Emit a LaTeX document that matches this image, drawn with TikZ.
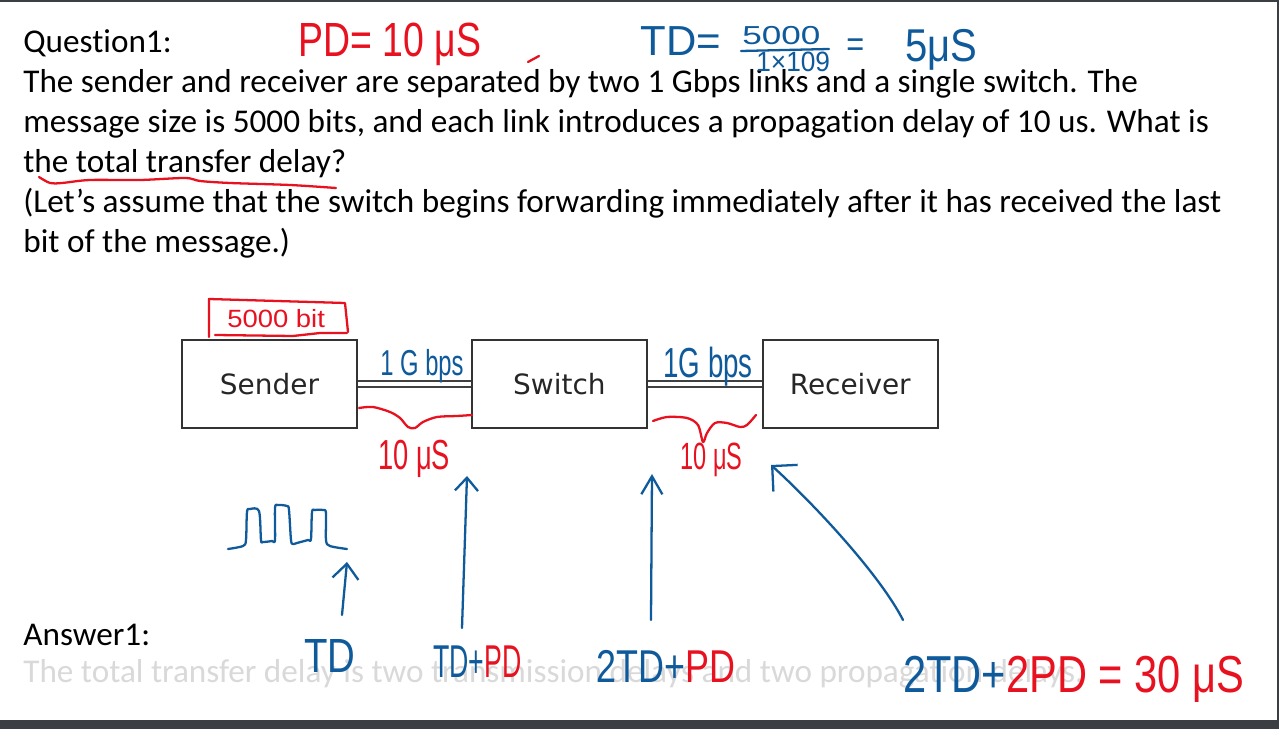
\documentclass[tikz,border=0pt]{standalone}
\usepackage{fontspec}
\setmainfont{Carlito}[Ligatures=NoCommon]
\newfontfamily\boxfont{DejaVu Sans}
\newfontfamily\handfont{Liberation Sans}
\usetikzlibrary{arrows.meta,positioning}
\definecolor{inkred}{HTML}{E8111F}
\definecolor{inkblue}{HTML}{0F5A9B}
\definecolor{framedark}{HTML}{3B3E42}
\definecolor{boxline}{HTML}{333333}
\definecolor{linkline}{HTML}{404040}
\definecolor{fadedtext}{HTML}{D9D9D9}
\newcommand\hf[1]{\handfont\fontsize{#1}{#1}\selectfont}
\newcommand\hw[2]{\scalebox{#1}[1]{#2}}
\tikzset{
  qline/.style={anchor=base west, inner sep=0pt, font=\fontsize{18.9}{22.6}\selectfont},
  unit/.style={draw=boxline, line width=1.1pt, fill=white,
               minimum width=3.5cm, minimum height=1.76cm,
               font=\boxfont\fontsize{15.9}{19}\selectfont, text=black!85},
  link/.style={draw=linkline, line width=1.1pt, double=white, double distance=2.3pt},
  redpen/.style={draw=inkred, line width=1.3pt, line cap=round, line join=round},
  bluepen/.style={draw=inkblue, line width=1.3pt, line cap=round, line join=round},
  redhand/.style={anchor=base west, inner sep=0pt, text=inkred},
  bluehand/.style={anchor=base west, inner sep=0pt, text=inkblue},
  harrow/.style 2 args={bluepen, -{Straight Barb[length=#1, width=#2]}},
}

\begin{document}
\begin{tikzpicture}[x=0.02cm, y=-0.02cm]

  \useasboundingbox (0,0) rectangle (1279,729);
  \fill[white] (0,0) rectangle (1279,729);
  \fill[framedark] (0,0) rectangle (1279,2);
  \fill[framedark] (1277,0) rectangle (1279,729);
  \fill[framedark] (0,720) rectangle (1279,729);

  \foreach \ln [count=\i] in {{Question1:},
      {The sender and receiver are separated by two 1 Gbps links and a single switch. The},
      {message size is 5000 bits, and each link introduces a propagation delay of 10 us. What is},
      {the total transfer delay?},
      {(Let’s assume that the switch begins forwarding immediately after it has received the last},
      {bit of the message.)}}
    \node[qline] (q\i) at (23,{13+40*\i}) {\ln};

  \node[qline] (answer) at (23,645) {Answer1:};
  \node[qline, text=fadedtext] (answertext) at (23,683) {The total transfer delay is two transmission delays and two propagation delays.};

  \node[unit] (sender) at (269.5,384) {Sender};
  \node[unit, right=2.26cm of sender] (switch) {Switch};
  \node[unit, right=2.28cm of switch] (receiver) {Receiver};

  \draw[link] (sender) -- (switch);
  \draw[link] (switch) -- (receiver);

  \node[redhand, font=\hf{27.3}] (pdval) at (298,57) {\hw{.78}{PD= 10 μS}};
  \draw[redpen] (528,62) -- (539,56);
  \node[bluehand, font=\hf{23.9}] (tdeq) at (640,56) {TD=};
  \node[bluehand, font=\hf{14.8}] (tdnum) at (742,45) {\hw{1.35}{5000}};
  \draw[bluepen] (741,51) -- (829,49);
  \node[bluehand, font=\hf{15.9}] (tdden) at (756,72) {\hw{.94}{1×109}};
  \node[bluehand, font=\hf{20.5}] (tdeqb) at (846,57) {\hw{.85}{=}};
  \node[bluehand, font=\hf{26.2}] (tdval) at (905,62) {\hw{.87}{5μS}};

  \draw[redpen] plot[smooth] coordinates {(39,177) (50,183) (62,183) (90,180) (140,180) (185,178) (200,181) (230,183) (290,185) (336,188)};

  \draw[redpen] (209,337) -- (209,299) -- (345,303) -- (348,332);
  \draw[redpen] (215,335) -- (293,336) -- (320,333) -- (347,333);
  \node[redhand, font=\hf{14.2}] (msgsize) at (227,328) {\hw{1.1}{5000 bit}};

  \node[bluehand, font=\hf{20.5}] (rate1) at (380,376) {\hw{.66}{1 G bps}};
  \node[bluehand, font=\hf{23.9}] (rate2) at (663,378) {\hw{.66}{1G bps}};

  \draw[redpen] plot[smooth] coordinates {(359,408) (373,407) (390,412) (400,418) (408,427) (415,428) (423,422) (437,417) (457,416) (472,415)};
  \draw[redpen] plot[smooth] coordinates {(653,421) (667,417) (687,418) (698,425) (703,442) (707,433) (715,423) (727,423) (740,427) (747,425) (756,415)};
  \node[redhand, font=\hf{23.9}] (prop1) at (378,470) {\hw{.65}{10 μS}};
  \node[redhand, font=\hf{21.6}] (prop2) at (680,470) {\hw{.62}{10 μS}};

  \draw[bluepen] plot[smooth, tension=0.5] coordinates {(228,549) (243,546) (246,540) (247,512) (250,509) (259,511) (261,540) (263,542) (272,541) (275,540) (275,508) (278,505) (287,506) (289,510) (291,540) (293,544) (297,543) (308,540) (311,539) (312,512) (315,510) (323,510) (326,513) (326,540) (330,546) (347,549)};

  \node[bluehand, font=\hf{27.3}] (tdlbl) at (304,672) {\hw{.8}{TD}};
  \node[bluehand, font=\hf{26.2}] (onehop) at (433,678) {\hw{.58}{TD+\textcolor{inkred}{PD}}};
  \node[bluehand, font=\hf{26.2}] (twohop) at (596,683) {\hw{.78}{2TD+\textcolor{inkred}{PD}}};
  \node[bluehand, font=\hf{29.6}] (total) at (903,692) {\hw{.8}{2TD+\textcolor{inkred}{2PD = 30 μS}}};

  \coordinate (tdtail) at (342,615);
  \coordinate (tdtip) at (347,562);
  \coordinate (onetail) at (462,628);
  \coordinate (onetip) at (467,476);
  \coordinate (twotail) at (651,620);
  \coordinate (twotip) at (652,474);
  \coordinate (sumtail) at (903,620);
  \coordinate (sumtip) at (771,465);

  \draw[harrow={0.3cm}{0.52cm}] (tdtail) -- (tdtip);
  \draw[harrow={0.26cm}{0.46cm}] (onetail) -- (onetip);
  \draw[harrow={0.36cm}{0.42cm}] (twotail) -- (twotip);
  \draw[harrow={0.36cm}{0.72cm}] (sumtail) .. controls (880,575) and (815,505) .. (sumtip);

\end{tikzpicture}
\end{document}
